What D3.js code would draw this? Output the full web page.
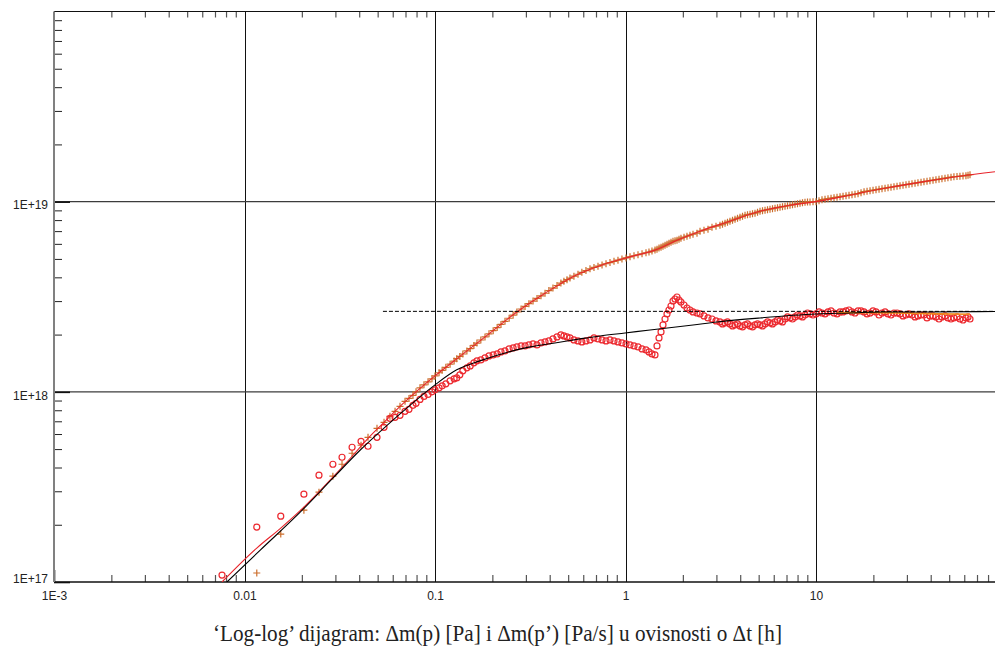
<!DOCTYPE html>
<html>
<head>
<meta charset="utf-8">
<script src="https://cdn.jsdelivr.net/npm/d3@7"></script>
<style>
  html, body { margin: 0; padding: 0; background: #ffffff; }
  svg { display: block; }
</style>
</head>
<body>
<svg id="chart" width="995" height="648"></svg>
<script>
// Elapsed time since shut-in, hours (shared by both measured series)
const hours = [
  0.00762, 0.0116, 0.0155, 0.0205, 0.0246, 0.0291, 0.0325, 0.0367, 0.0409, 0.0445,
  0.0496, 0.0540, 0.0580, 0.0617, 0.0655, 0.0696, 0.0730, 0.0766, 0.0795, 0.0834,
  0.0875, 0.0919, 0.0964, 0.100, 0.105, 0.109, 0.114, 0.120, 0.126, 0.130,
  0.135, 0.140, 0.147, 0.153, 0.160, 0.166, 0.174, 0.183, 0.192, 0.202,
  0.212, 0.222, 0.233, 0.245, 0.257, 0.269, 0.283, 0.297, 0.311, 0.327,
  0.343, 0.360, 0.378, 0.396, 0.416, 0.437, 0.458, 0.475, 0.493, 0.511,
  0.536, 0.563, 0.590, 0.620, 0.651, 0.683, 0.717, 0.753, 0.790, 0.829,
  0.870, 0.913, 0.958, 1.006, 1.056, 1.108, 1.163, 1.221, 1.281, 1.328,
  1.377, 1.428, 1.463, 1.499, 1.536, 1.573, 1.612, 1.651, 1.691, 1.733,
  1.775, 1.819, 1.863, 1.909, 1.955, 2.028, 2.102, 2.180, 2.261, 2.373,
  2.461, 2.582, 2.710, 2.844, 2.985, 3.132, 3.330, 3.534, 3.757, 3.991,
  4.240, 4.504, 4.783, 5.082, 5.399, 5.734, 6.093, 6.472, 6.875, 7.302,
  7.757, 8.241, 8.753, 9.299, 10.00, 10.75, 11.56, 12.43, 13.37, 14.37,
  15.45, 16.62, 17.87, 19.21, 20.65, 22.20, 23.88, 25.66, 27.60, 29.67,
  31.90, 34.29, 36.87, 39.64, 42.62, 45.82, 49.26, 52.96, 56.95, 61.23,
  64.31
];

// Δm(p), Pa  (first sample lies below the plotted range)
const deltaMp = [
  null, 1.115e17, 1.786e17, 2.387e17, 2.967e17, 3.600e17, 4.162e17, 4.753e17, 5.236e17, 5.767e17,
  6.429e17, 6.913e17, 7.432e17, 7.895e17, 8.386e17, 8.909e17, 9.237e17, 9.578e17, 1.000e18, 1.050e18,
  1.088e18, 1.129e18, 1.170e18, 1.213e18, 1.260e18, 1.297e18, 1.346e18, 1.398e18, 1.451e18, 1.494e18,
  1.536e18, 1.581e18, 1.641e18, 1.688e18, 1.754e18, 1.804e18, 1.873e18, 1.944e18, 2.018e18, 2.098e18,
  2.178e18, 2.261e18, 2.347e18, 2.437e18, 2.530e18, 2.630e18, 2.727e18, 2.814e18, 2.907e18, 3.000e18,
  3.100e18, 3.198e18, 3.300e18, 3.406e18, 3.514e18, 3.623e18, 3.733e18, 3.812e18, 3.887e18, 3.963e18,
  4.059e18, 4.153e18, 4.250e18, 4.343e18, 4.433e18, 4.509e18, 4.580e18, 4.647e18, 4.715e18, 4.784e18,
  4.854e18, 4.925e18, 4.989e18, 5.058e18, 5.125e18, 5.194e18, 5.257e18, 5.321e18, 5.386e18, 5.429e18,
  5.495e18, 5.562e18, 5.629e18, 5.698e18, 5.767e18, 5.837e18, 5.908e18, 5.980e18, 6.052e18, 6.126e18,
  6.200e18, 6.238e18, 6.276e18, 6.352e18, 6.429e18, 6.507e18, 6.586e18, 6.667e18, 6.748e18, 6.830e18,
  6.997e18, 7.082e18, 7.168e18, 7.343e18, 7.432e18, 7.522e18, 7.706e18, 7.895e18, 8.088e18, 8.286e18,
  8.488e18, 8.592e18, 8.696e18, 8.909e18, 9.017e18, 9.126e18, 9.237e18, 9.350e18, 9.463e18, 9.578e18,
  9.695e18, 9.812e18, 9.940e18, 9.970e18, 1.000e19, 1.025e19, 1.037e19, 1.050e19, 1.062e19, 1.075e19,
  1.088e19, 1.102e19, 1.129e19, 1.142e19, 1.156e19, 1.170e19, 1.184e19, 1.199e19, 1.213e19, 1.228e19,
  1.243e19, 1.258e19, 1.274e19, 1.289e19, 1.305e19, 1.321e19, 1.337e19, 1.353e19, 1.361e19, 1.369e19,
  1.386e19
];

// Δm(p'), Pa/s  (pressure derivative)
const derivative = [
  1.088e17, 1.944e17, 2.220e17, 2.897e17, 3.644e17, 4.162e17, 4.529e17, 5.111e17, 5.495e17, 5.173e17,
  5.767e17, 6.507e17, 7.255e17, 7.343e17, 7.522e17, 7.895e17, 8.088e17, 8.488e17, 8.696e17, 9.126e17,
  9.463e17, 9.695e17, 1.000e18, 1.025e18, 1.050e18, 1.075e18, 1.102e18, 1.142e18, 1.170e18, 1.184e18,
  1.228e18, 1.289e18, 1.337e18, 1.369e18, 1.420e18, 1.455e18, 1.472e18, 1.508e18, 1.545e18, 1.564e18,
  1.583e18, 1.622e18, 1.641e18, 1.682e18, 1.702e18, 1.723e18, 1.744e18, 1.744e18, 1.765e18, 1.786e18,
  1.765e18, 1.808e18, 1.830e18, 1.852e18, 1.898e18, 1.944e18, 1.992e18, 1.968e18, 1.944e18, 1.921e18,
  1.875e18, 1.852e18, 1.830e18, 1.852e18, 1.875e18, 1.921e18, 1.898e18, 1.875e18, 1.852e18, 1.875e18,
  1.852e18, 1.830e18, 1.808e18, 1.786e18, 1.765e18, 1.744e18, 1.723e18, 1.682e18, 1.661e18, 1.622e18,
  1.583e18, 1.564e18, 1.744e18, 1.921e18, 2.065e18, 2.247e18, 2.416e18, 2.567e18, 2.694e18, 2.827e18,
  3.003e18, 3.077e18, 3.152e18, 3.040e18, 2.967e18, 2.862e18, 2.760e18, 2.694e18, 2.630e18, 2.598e18,
  2.567e18, 2.506e18, 2.446e18, 2.416e18, 2.359e18, 2.330e18, 2.302e18, 2.275e18, 2.247e18, 2.220e18,
  2.247e18, 2.220e18, 2.247e18, 2.247e18, 2.275e18, 2.302e18, 2.330e18, 2.359e18, 2.416e18, 2.446e18,
  2.476e18, 2.506e18, 2.536e18, 2.567e18, 2.567e18, 2.598e18, 2.630e18, 2.598e18, 2.630e18, 2.662e18,
  2.630e18, 2.662e18, 2.630e18, 2.598e18, 2.630e18, 2.598e18, 2.567e18, 2.598e18, 2.567e18, 2.536e18,
  2.536e18, 2.506e18, 2.536e18, 2.506e18, 2.476e18, 2.476e18, 2.446e18, 2.446e18, 2.416e18, 2.446e18,
  2.416e18
];

// Additional late-time samples (between the ones above)
const lateHours = [
  3.229, 3.430, 3.645, 3.872, 4.113, 4.369, 4.642, 4.931, 5.238, 5.564,
  5.910, 6.279, 6.670, 7.085, 7.526, 7.995, 8.493, 9.022, 9.644, 10.37,
  11.15, 11.99, 12.89, 13.86, 14.90, 16.02, 17.23, 18.53, 19.92, 21.42,
  23.03, 24.75, 26.62, 28.62, 30.77, 33.09, 35.58, 38.25, 41.13, 44.22,
  47.54, 51.12, 54.96, 59.10, 62.79
];
const lateDeltaMp = [
  7.614e18, 7.800e18, 7.991e18, 8.186e18, 8.386e18, 8.540e18, 8.644e18, 8.802e18, 8.963e18, 9.072e18,
  9.182e18, 9.293e18, 9.406e18, 9.520e18, 9.636e18, 9.753e18, 9.872e18, 9.955e18, 9.990e18, 1.012e19,
  1.031e19, 1.043e19, 1.056e19, 1.069e19, 1.082e19, 1.095e19, 1.115e19, 1.135e19, 1.149e19, 1.163e19,
  1.177e19, 1.192e19, 1.206e19, 1.221e19, 1.236e19, 1.251e19, 1.266e19, 1.281e19, 1.297e19, 1.313e19,
  1.329e19, 1.345e19, 1.356e19, 1.366e19, 1.378e19
];
const lateDerivative = [
  2.275e18, 2.330e18, 2.220e18, 2.275e18, 2.194e18, 2.275e18, 2.194e18, 2.275e18, 2.220e18, 2.330e18,
  2.275e18, 2.387e18, 2.330e18, 2.476e18, 2.416e18, 2.536e18, 2.476e18, 2.598e18, 2.536e18, 2.630e18,
  2.567e18, 2.662e18, 2.567e18, 2.630e18, 2.694e18, 2.598e18, 2.662e18, 2.567e18, 2.662e18, 2.536e18,
  2.630e18, 2.536e18, 2.598e18, 2.506e18, 2.567e18, 2.476e18, 2.536e18, 2.446e18, 2.506e18, 2.416e18,
  2.506e18, 2.416e18, 2.476e18, 2.387e18, 2.476e18
];

// Model response for Δm(p)
const modelHoursP = [0.00762, 0.0116, 0.0155, 0.0205, 0.0291, 0.0367, 0.0445, 0.0540, 0.0655, 0.0795,
  0.100, 0.135, 0.192, 0.269, 0.378, 0.536, 0.753, 1.056, 1.428, 1.863,
  2.461, 3.534, 5.082, 7.302, 10.0, 15.45, 23.88, 36.87, 56.95, 87.0];
const modelP = [1.00e17, 1.508e17, 1.921e17, 2.476e17, 3.557e17, 4.584e17, 5.698e17, 6.913e17, 8.386e17, 1.000e18,
  1.213e18, 1.536e18, 2.018e18, 2.630e18, 3.300e18, 4.059e18, 4.646e18, 5.125e18, 5.562e18, 6.276e18,
  6.997e18, 7.895e18, 8.909e18, 9.578e18, 1.000e19, 1.088e19, 1.184e19, 1.274e19, 1.361e19, 1.437e19];

// Model response for the derivative
const modelHoursD = [0.00809, 0.0121, 0.0196, 0.0291, 0.0404, 0.0560, 0.0739, 0.100, 0.130, 0.172,
  0.233, 0.315, 0.426, 0.577, 0.735, 0.994, 1.345, 2.261, 3.02, 5.08,
  10.0, 15.08, 22.47, 37.33, 87.0];
const modelD = [1.00e17, 1.472e17, 2.330e17, 3.514e17, 4.929e17, 6.667e17, 8.488e17, 1.088e18, 1.305e18, 1.455e18,
  1.602e18, 1.723e18, 1.808e18, 1.898e18, 1.968e18, 2.040e18, 2.116e18, 2.247e18, 2.330e18, 2.446e18,
  2.567e18, 2.598e18, 2.630e18, 2.630e18, 2.645e18];

// Smoothed late-time derivative
const smoothHours = [12.9, 20.0, 30.0, 45.0, 64.3];
const smoothD = [2.61e18, 2.61e18, 2.59e18, 2.57e18, 2.56e18];

// Radial-flow stabilisation level
const stabilizationStart = 0.0533;
const stabilizationLevel = 2.65e18;

// Axis ticks
const xTicks = [0.001, 0.01, 0.1, 1, 10];
const xTickLabels = ["1E-3", "0.01", "0.1", "1", "10"];
const yTicks = [1e17, 1e18, 1e19];
const yTickLabels = ["1E+17", "1E+18", "1E+19"];
const title = "\u2018Log-log\u2019 dijagram: \u0394m(p) [Pa] i \u0394m(p\u2019) [Pa/s] u ovisnosti o \u0394t [h]";

// ---------------------------------------------------------------
(function draw() {
  const pL = 54, pR = 995, pT = 11.5, pB = 582;
  const x = d3.scaleLog().domain([1e-3, 87]).range([pL, pR]);
  const y = d3.scaleLog().domain([1e17, 1e20]).range([pB, pT]);

  const svg = d3.select("#chart");

  svg.append("defs").append("clipPath").attr("id", "plotArea")
    .append("rect").attr("x", pL).attr("y", pT)
    .attr("width", pR - pL).attr("height", pB - pT);

  // minor tick positions (2..9 within each decade)
  const minorX = [];
  for (let e = -3; e <= 1; e++) for (let k = 2; k <= 9; k++) {
    const v = k * Math.pow(10, e);
    if (v < 87) minorX.push(v);
  }
  const minorY = [];
  for (let e = 17; e <= 19; e++) for (let k = 2; k <= 9; k++) minorY.push(k * Math.pow(10, e));

  // grid lines
  const grid = svg.append("g");
  grid.selectAll("line.vx").data(xTicks.slice(1)).join("line")
    .attr("x1", d => Math.round(x(d)) + 0.5).attr("x2", d => Math.round(x(d)) + 0.5)
    .attr("y1", pT).attr("y2", pB)
    .attr("stroke", "#111").attr("stroke-width", 1);
  grid.selectAll("line.hy").data([1e18, 1e19]).join("line")
    .attr("x1", pL).attr("x2", pR)
    .attr("y1", d => y(d)).attr("y2", d => y(d))
    .attr("stroke", "#3c3c3c").attr("stroke-width", 1.2);

  function styleTicks(g, color, width) {
    g.select(".domain").remove();
    g.selectAll(".tick line").attr("stroke", color).attr("stroke-width", width);
  }
  // minor ticks on bottom, top and left
  svg.append("g").attr("transform", `translate(0,${pB})`)
    .call(d3.axisBottom(x).tickValues(minorX).tickSize(-7).tickFormat(""))
    .call(g => styleTicks(g, "#555", 1.2));
  svg.append("g").attr("transform", `translate(0,${pT})`)
    .call(d3.axisTop(x).tickValues(minorX).tickSize(-6).tickFormat(""))
    .call(g => styleTicks(g, "#555", 1.2));
  svg.append("g").attr("transform", `translate(${pL},0)`)
    .call(d3.axisLeft(y).tickValues(minorY).tickSize(-8).tickFormat(""))
    .call(g => styleTicks(g, "#222", 1));
  svg.append("g").attr("transform", `translate(${pL},0)`)
    .call(d3.axisLeft(y).tickValues(yTicks).tickSize(-16).tickFormat(""))
    .call(g => styleTicks(g, "#111", 1.6));
  svg.append("g").attr("transform", `translate(0,${pB})`)
    .call(d3.axisBottom(x).tickValues([0.001]).tickSize(-12).tickFormat(""))
    .call(g => styleTicks(g, "#111", 1.6));

  // frame
  svg.append("line").attr("x1", pL).attr("x2", pR).attr("y1", pT).attr("y2", pT)
    .attr("stroke", "#111").attr("stroke-width", 1.2);
  svg.append("line").attr("x1", pL).attr("x2", pR).attr("y1", pB).attr("y2", pB)
    .attr("stroke", "#111").attr("stroke-width", 1.4);
  svg.append("line").attr("x1", pL).attr("x2", pL).attr("y1", pT).attr("y2", pB)
    .attr("stroke", "#808080").attr("stroke-width", 2);

  // tick labels
  const labelFont = "'Liberation Sans', Arial, sans-serif";
  svg.append("g").attr("transform", `translate(0,${pB})`)
    .call(d3.axisBottom(x).tickValues(xTicks).tickSize(0).tickPadding(9)
      .tickFormat((d, i) => xTickLabels[i]))
    .call(g => g.select(".domain").remove())
    .call(g => g.selectAll("text").attr("fill", "#222")
      .style("font-family", labelFont).style("font-size", "12px"));
  svg.append("g").attr("transform", `translate(${pL},0)`)
    .call(d3.axisLeft(y).tickValues(yTicks).tickSize(0).tickPadding(6)
      .tickFormat((d, i) => yTickLabels[i]))
    .call(g => g.select(".domain").remove())
    .call(g => g.selectAll("text").attr("fill", "#222")
      .attr("dy", d => d === 1e17 ? "0.05em" : "0.6em")
      .style("font-family", labelFont).style("font-size", "12px"));

  // data layer
  const plot = svg.append("g").attr("clip-path", "url(#plotArea)");

  const pressurePts = hours.map((t, i) => ({ t, v: deltaMp[i] }))
    .concat(lateHours.map((t, i) => ({ t, v: lateDeltaMp[i] })))
    .filter(d => d.v != null);
  const derivPts = hours.map((t, i) => ({ t, v: derivative[i] }))
    .concat(lateHours.map((t, i) => ({ t, v: lateDerivative[i] })));

  plot.selectAll("path.plus").data(pressurePts).join("path")
    .attr("class", "plus")
    .attr("transform", d => `translate(${x(d.t)},${y(d.v)})`)
    .attr("d", "M-3.5,0H3.5M0,-3.5V3.5")
    .attr("stroke", "#cc6e2c").attr("stroke-width", 1.2).attr("fill", "none");

  plot.selectAll("circle.deriv").data(derivPts).join("circle")
    .attr("class", "deriv")
    .attr("cx", d => x(d.t)).attr("cy", d => y(d.v)).attr("r", 3)
    .attr("fill", "none").attr("stroke", "#ec2a30").attr("stroke-width", 1.2);

  const line = d3.line().x(d => x(d[0])).y(d => y(d[1])).curve(d3.curveMonotoneX);

  plot.append("path")
    .attr("d", line(smoothHours.map((t, i) => [t, smoothD[i]])))
    .attr("fill", "none").attr("stroke", "#f08a1c").attr("stroke-width", 1.6);

  plot.append("path")
    .attr("d", line(modelHoursP.map((t, i) => [t, modelP[i]])))
    .attr("fill", "none").attr("stroke", "#e8232a").attr("stroke-width", 1.1);

  plot.append("path")
    .attr("d", line(modelHoursD.map((t, i) => [t, modelD[i]])))
    .attr("fill", "none").attr("stroke", "#000").attr("stroke-width", 1.1);

  plot.append("line")
    .attr("x1", x(stabilizationStart)).attr("x2", pR)
    .attr("y1", y(stabilizationLevel)).attr("y2", y(stabilizationLevel))
    .attr("stroke", "#000").attr("stroke-width", 1).attr("stroke-dasharray", "4,2");

  // caption
  svg.append("text")
    .attr("x", 497.5).attr("y", 641)
    .attr("text-anchor", "middle")
    .attr("textLength", 569).attr("lengthAdjust", "spacingAndGlyphs")
    .style("font-family", "'Liberation Serif', 'Times New Roman', serif")
    .style("font-size", "24px").attr("fill", "#222")
    .text(title);
})();
</script>
</body>
</html>
